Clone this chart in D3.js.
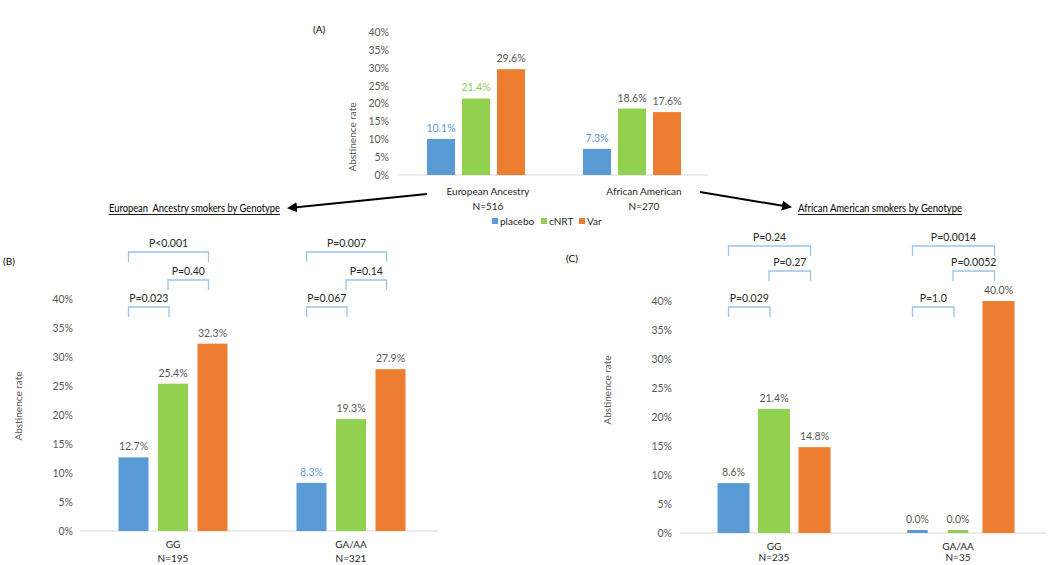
<!DOCTYPE html>
<html><head><meta charset="utf-8">
<script src="https://cdn.jsdelivr.net/npm/d3@7"></script>
<style>
body{margin:0;background:#fff;}
svg{display:block;font-family:Lato,"Open Sans",sans-serif;}
</style></head>
<body><svg id="c" width="1050" height="565"></svg>
<script>
// ---------- data ----------
const series = ["placebo", "cNRT", "Var"];
const tickValues = [0, 5, 10, 15, 20, 25, 30, 35, 40];

const categoriesA = ["European Ancestry", "African American"];
const nLabelsA = ["N=516", "N=270"];
const placeboA = [10.1, 7.3];
const cnrtA = [21.4, 18.6];
const varA = [29.6, 17.6];

const categoriesB = ["GG", "GA/AA"];
const nLabelsB = ["N=195", "N=321"];
const placeboB = [12.7, 8.3];
const cnrtB = [25.4, 19.3];
const varB = [32.3, 27.9];

const categoriesC = ["GG", "GA/AA"];
const nLabelsC = ["N=235", "N=35"];
const placeboC = [8.6, 0.0];
const cnrtC = [21.4, 0.0];
const varC = [14.8, 40.0];

const pValuesB = [
  {cat: "GG", from: "placebo", to: "cNRT", level: 0, label: "P=0.023"},
  {cat: "GG", from: "cNRT", to: "Var", level: 1, label: "P=0.40"},
  {cat: "GG", from: "placebo", to: "Var", level: 2, label: "P<0.001"},
  {cat: "GA/AA", from: "placebo", to: "cNRT", level: 0, label: "P=0.067"},
  {cat: "GA/AA", from: "cNRT", to: "Var", level: 1, label: "P=0.14"},
  {cat: "GA/AA", from: "placebo", to: "Var", level: 2, label: "P=0.007"}
];
const pValuesC = [
  {cat: "GG", from: "placebo", to: "cNRT", level: 0, label: "P=0.029"},
  {cat: "GG", from: "cNRT", to: "Var", level: 1, label: "P=0.27"},
  {cat: "GG", from: "placebo", to: "Var", level: 2, label: "P=0.24"},
  {cat: "GA/AA", from: "placebo", to: "cNRT", level: 0, label: "P=1.0"},
  {cat: "GA/AA", from: "cNRT", to: "Var", level: 1, label: "P=0.0052"},
  {cat: "GA/AA", from: "placebo", to: "Var", level: 2, label: "P=0.0014"}
];

// ---------- styles ----------
const colors = {placebo: "#5b9bd5", cNRT: "#92d050", Var: "#ed7d31"};
const gray = "#595959";
const font = 10.5;

const svg = d3.select("#c");

function drawPanel(o) {
  const g = svg.append("g");
  const x = d3.scaleBand().domain(o.cats).range(o.xRange);
  const y = d3.scaleLinear().domain([0, 40]).range(o.yRange);
  const inner = d3.scaleBand().domain(series)
    .range([-1.5 * o.barStep, 1.5 * o.barStep])
    .paddingInner(1 - o.barW / o.barStep)
    .paddingOuter((1 - o.barW / o.barStep) / 2);
  const cx = c => x(c) + x.bandwidth() / 2;

  // axis
  const ax = g.append("g").attr("transform", `translate(${o.tickRight + 6},0)`)
    .call(d3.axisLeft(y).tickValues(tickValues).tickSize(0).tickPadding(6).tickFormat(d => d + "%"));
  ax.select(".domain").remove();
  ax.selectAll("text").attr("fill", gray).style("font-size", font + "px").style("font-family", "Lato");

  // baseline
  g.append("line").attr("x1", o.base[0]).attr("x2", o.base[1])
    .attr("y1", y(0)).attr("y2", y(0)).attr("stroke", "#d9d9d9").attr("stroke-width", 1.2);

  // bars
  const rows = [];
  o.cats.forEach((c, i) => series.forEach((s, j) => rows.push({c, i, s, v: o.vals[j][i]})));
  g.selectAll("rect.bar").data(rows).join("rect")
    .attr("x", d => d.v === 0 ? cx(d.c) + inner(d.s) + o.barW * 0.18 : cx(d.c) + inner(d.s))
    .attr("width", d => d.v === 0 ? o.barW * 0.64 : inner.bandwidth())
    .attr("y", d => d.v === 0 ? y(0) - 3 : y(d.v))
    .attr("height", d => d.v === 0 ? 3 : y(0) - y(d.v))
    .attr("fill", d => colors[d.s]);

  g.selectAll("text.val").data(rows).join("text")
    .attr("x", d => cx(d.c) + inner(d.s) + inner.bandwidth() / 2)
    .attr("y", d => (d.v === 0 ? y(0) - 3 : y(d.v)) - 7)
    .attr("text-anchor", "middle").style("font-size", font + "px")
    .attr("fill", d => (o.hl[d.i + "-" + d.s]) || gray)
    .text(d => d.v.toFixed(1) + "%");

  // category labels
  o.cats.forEach((c, i) => {
    g.append("text").attr("x", cx(c) + o.labOff).attr("y", o.catY[0]).attr("text-anchor", "middle")
      .style("font-size", "10px").attr("fill", "#262626").text(c);
    g.append("text").attr("x", cx(c) + o.labOff).attr("y", o.catY[1]).attr("text-anchor", "middle")
      .style("font-size", "10px").attr("fill", "#262626").text(o.ns[i]);
  });

  // y title
  g.append("text").attr("transform", `translate(${o.yTitle[0]},${o.yTitle[1]}) rotate(-90)`)
    .attr("text-anchor", "middle").style("font-size", "10px").attr("fill", gray).text("Abstinence rate");

  // panel label
  g.append("text").attr("x", o.panelLab[0]).attr("y", o.panelLab[1]).style("font-size", "10px")
    .attr("fill", "#000").text(o.panelName);

  // brackets
  if (o.pvals) {
    o.pvals.forEach(p => {
      const x1 = cx(p.cat) + inner(p.from) + inner.bandwidth() / 2 - 5;
      const x2 = cx(p.cat) + inner(p.to) + inner.bandwidth() / 2 - 4;
      const ly = o.levels[p.level];
      g.append("path").attr("d", `M${x1},${ly + 10}V${ly}H${x2}V${ly + 10}`)
        .attr("fill", "none").attr("stroke", "#9dc3e6").attr("stroke-width", 1.3);
      g.append("text").attr("x", (x1 + x2) / 2).attr("y", ly - 5).attr("text-anchor", "middle")
        .style("font-size", font + "px").attr("fill", "#262626").text(p.label);
    });
  }
}

drawPanel({
  panelName: "(A)", panelLab: [313, 33],
  cats: categoriesA, ns: nLabelsA, vals: [placeboA, cnrtA, varA],
  xRange: [398, 710], yRange: [175, 32], base: [398, 708],
  barStep: 35, barW: 28, tickRight: 389, labOff: 12, catY: [195, 210],
  yTitle: [356, 137],
  hl: {"0-placebo": colors.placebo, "0-cNRT": colors.cNRT, "1-placebo": colors.placebo}
});

drawPanel({
  panelName: "(B)", panelLab: [3, 265],
  cats: categoriesB, ns: nLabelsB, vals: [placeboB, cnrtB, varB],
  xRange: [84, 440], yRange: [531, 299], base: [80, 438],
  barStep: 39.5, barW: 30, tickRight: 73, labOff: 0, catY: [548, 562],
  yTitle: [22, 406],
  hl: {"1-placebo": colors.placebo},
  pvals: pValuesB, levels: [307, 280, 252]
});

drawPanel({
  panelName: "(C)", panelLab: [566, 262],
  cats: categoriesC, ns: nLabelsC, vals: [placeboC, cnrtC, varC],
  xRange: [682, 1050], yRange: [533, 301], base: [680, 1047],
  barStep: 40.5, barW: 32, tickRight: 672, labOff: 0, catY: [550, 561],
  yTitle: [611, 390],
  hl: {},
  pvals: pValuesC, levels: [307, 271, 246]
});

// legend
const leg = svg.append("g");
const legX = [492, 541, 579];
series.forEach((s, i) => {
  leg.append("rect").attr("x", legX[i]).attr("y", 218).attr("width", 6).attr("height", 6).attr("fill", colors[s]);
  leg.append("text").attr("x", legX[i] + 8).attr("y", 225).style("font-size", "10px").attr("fill", "#262626").text(s);
});

// arrows
const defs = svg.append("defs");
defs.append("marker").attr("id", "ah").attr("viewBox", "0 0 10 10").attr("refX", 8).attr("refY", 5)
  .attr("markerWidth", 5).attr("markerHeight", 5).attr("orient", "auto")
  .append("path").attr("d", "M0,0L10,5L0,10z").attr("fill", "#000");
svg.append("line").attr("x1", 427).attr("y1", 194).attr("x2", 289).attr("y2", 208)
  .attr("stroke", "#000").attr("stroke-width", 2).attr("marker-end", "url(#ah)");
svg.append("line").attr("x1", 700).attr("y1", 192).attr("x2", 790).attr("y2", 207)
  .attr("stroke", "#000").attr("stroke-width", 2).attr("marker-end", "url(#ah)");

// section titles
[["European  Ancestry smokers by Genotype", 109, 171], ["African American smokers by Genotype", 798, 164]].forEach(([t, xx, w]) => {
  svg.append("text").attr("x", xx).attr("y", 212).style("font-size", "11px").attr("fill", "#000")
    .attr("xml:space", "preserve").style("white-space", "pre")
    .attr("textLength", w).attr("lengthAdjust", "spacingAndGlyphs").text(t);
  svg.append("line").attr("x1", xx).attr("x2", xx + w).attr("y1", 214.5).attr("y2", 214.5)
    .attr("stroke", "#000").attr("stroke-width", 0.9);
});
</script></body></html>
